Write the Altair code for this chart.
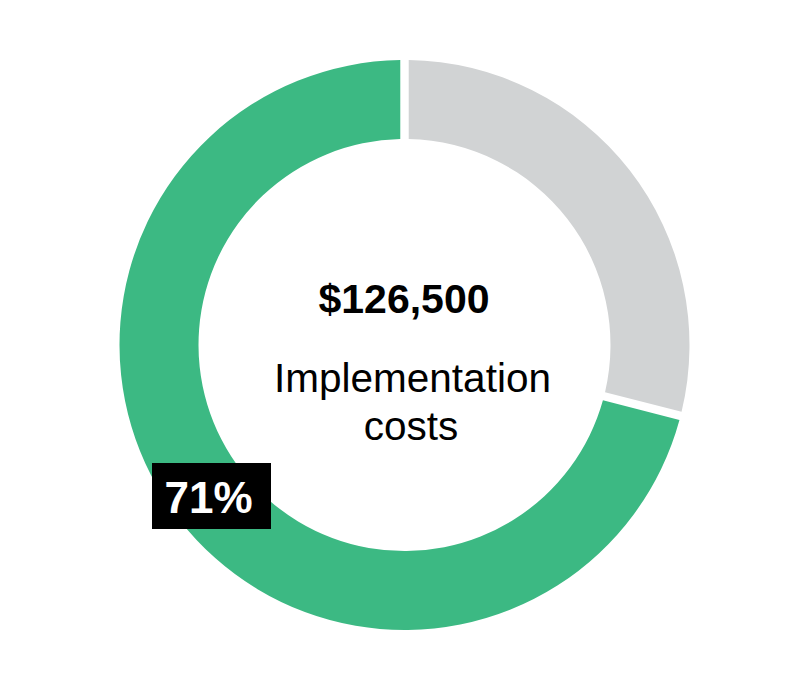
import altair as alt
import pandas as pd

categories = ["Remaining", "Share"]
values = [29, 71]
order = [1, 2]
colors = ["#D1D3D4", "#3CB983"]

center_amount = ["$126,500"]
center_label_1 = ["Implementation"]
center_label_2 = ["costs"]
share_label = ["71%"]

df = pd.DataFrame({"category": categories, "value": values, "order": order})

CX, CY = 396.5, 337
R_OUT, R_IN = 285, 206

donut = alt.Chart(df).mark_arc(
    outerRadius=R_OUT, innerRadius=R_IN, padAngle=0.024
).encode(
    theta=alt.Theta("value:Q", stack=True),
    order=alt.Order("order:Q"),
    color=alt.Color("category:N",
                    scale=alt.Scale(domain=categories, range=colors),
                    legend=None),
    x=alt.value(CX),
    y=alt.value(CY),
)

def txt(texts, x, y, size, weight, color):
    d = pd.DataFrame({"t": texts})
    return alt.Chart(d).mark_text(
        font="Liberation Sans", fontSize=size, fontWeight=weight,
        color=color, align="center", baseline="alphabetic"
    ).encode(text="t:N", x=alt.value(x), y=alt.value(y))

amount = txt(center_amount, 396, 305, 41, "bold", "#000000")
lab1 = txt(center_label_1, 404.5, 384, 40.5, "normal", "#000000")
lab2 = txt(center_label_2, 403, 432, 40.5, "normal", "#000000")

box = alt.Chart(pd.DataFrame({"t": share_label})).mark_rect(color="#000000").encode(
    x=alt.value(144), x2=alt.value(263), y=alt.value(455), y2=alt.value(521)
)
share = txt(share_label, 200.5, 505, 44, "bold", "#FFFFFF")

chart = alt.layer(donut, amount, lab1, lab2, box, share).properties(
    width=790, height=671, padding=0,
    autosize=alt.AutoSizeParams(type="none"),
).configure_view(stroke=None)

chart.save("out.html", embed_options={"renderer": "svg", "actions": False})
